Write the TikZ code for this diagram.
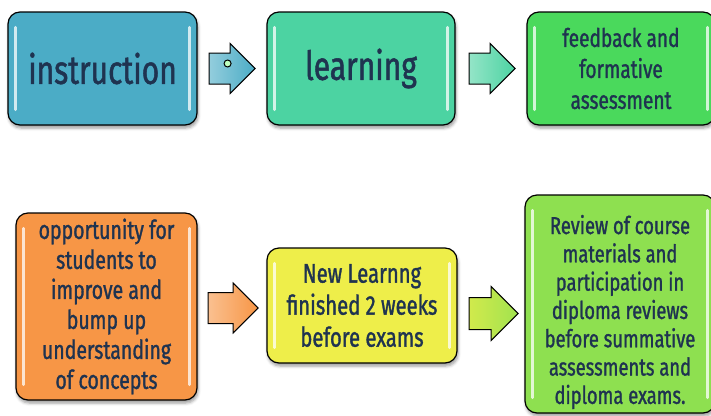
\documentclass[tikz,border=0pt]{standalone}
\usepackage{fontspec}
\setmainfont[FakeStretch=0.75, FakeBold=1.2]{Fira Sans}
\usetikzlibrary{shapes.arrows, positioning, calc, shadows.blur}
\definecolor{textnavy}{RGB}{31,51,80}
\definecolor{instrblue}{RGB}{75,172,198}
\definecolor{learnteal}{RGB}{76,211,162}
\definecolor{feedgreen}{RGB}{74,217,92}
\definecolor{opporange}{RGB}{247,150,70}
\definecolor{newyellow}{RGB}{238,238,74}
\definecolor{reviewlime}{RGB}{142,224,80}

\begin{document}
\begin{tikzpicture}[x=1pt, y=-1pt,
    box/.style={rectangle, draw=black, line width=1.2pt, rounded corners=12pt,
                align=center, text=textnavy, inner sep=2pt,
                blur shadow={shadow xshift=1pt, shadow yshift=-3pt, shadow blur radius=3pt}},
    bigtext/.style={font=\fontsize{40}{44}\selectfont},
    blockarrow/.style={single arrow, draw=black, line width=1pt, inner sep=0pt,
                       single arrow head extend=9.5pt, minimum height=46pt},
    gloss/.style={white, line width=3pt, line cap=round, opacity=0.75}
]
    \useasboundingbox (0,0) rectangle (711,415);

    % top row
    \node[box, bigtext, fill=instrblue, minimum width=189pt, minimum height=113pt]
        (instr) at (102.5,68.5) {instruction};
    \node[box, bigtext, fill=learnteal, minimum width=188pt, minimum height=113pt]
        (learn) at (361,68.5) {learning};
    \node[box, font=\fontsize{25.5}{31}\selectfont, fill=feedgreen,
          minimum width=188pt, minimum height=113pt]
        (feed) at (621,68.5) {feedback and\\formative\\assessment};

    % bottom row
    \node[box, font=\fontsize{26}{30}\selectfont, fill=opporange,
          minimum width=181pt, minimum height=187pt]
        (opp) at (106.5,306.5) {opportunity for\\students to\\improve and\\bump up\\understanding\\of concepts};
    \node[box, font=\fontsize{27}{32}\selectfont, fill=newyellow,
          minimum width=190pt, minimum height=115pt]
        (newlearn) at (362,305.5) {New Learnng\\finished 2 weeks\\before exams};
    \node[box, fill=reviewlime, minimum width=190pt, minimum height=218pt]
        (review) at (620,304) {};
    \node[align=center, text=textnavy, font=\fontsize{24.5}{28.3}\selectfont]
        (reviewtext) at (620,312) {Review of course\\materials and\\participation in\\diploma reviews\\before summative\\assessments and\\diploma exams.};

    % glossy side strips
    \foreach \b in {instr, learn, feed, opp, newlearn, review} {
        \draw[gloss] ($(\b.north west)+(8,16)$) -- ($(\b.south west)+(8,-16)$);
        \draw[gloss] ($(\b.north east)+(-8,16)$) -- ($(\b.south east)+(-8,-16)$);
    }

    % block arrows between the boxes
    \node[blockarrow, right=11pt of instr, left color=instrblue!60!white, right color=instrblue]
        (arr1) {\rule{0pt}{30pt}};
    \node[blockarrow, right=13pt of learn, left color=learnteal!60!white, right color=learnteal]
        (arr2) {\rule{0pt}{30pt}};
    \node[blockarrow, right=10pt of opp, yshift=-1.5pt, minimum height=50pt,
          left color=opporange!60!white, right color=opporange]
        (arr3) {\rule{0pt}{30pt}};
    \node[blockarrow, right=11pt of newlearn, yshift=-8pt, minimum height=49pt,
          single arrow head extend=11pt,
          left color=newyellow!70!reviewlime, right color=reviewlime!80!newyellow]
        (arr4) {\rule{0pt}{31pt}};

    % small handle on the first arrow
    \node[circle, draw=black, line width=1pt, fill=green!25, inner sep=0pt,
          minimum size=7pt] (handle) at ($(arr1.west)+(19,-5)$) {};
\end{tikzpicture}
\end{document}
